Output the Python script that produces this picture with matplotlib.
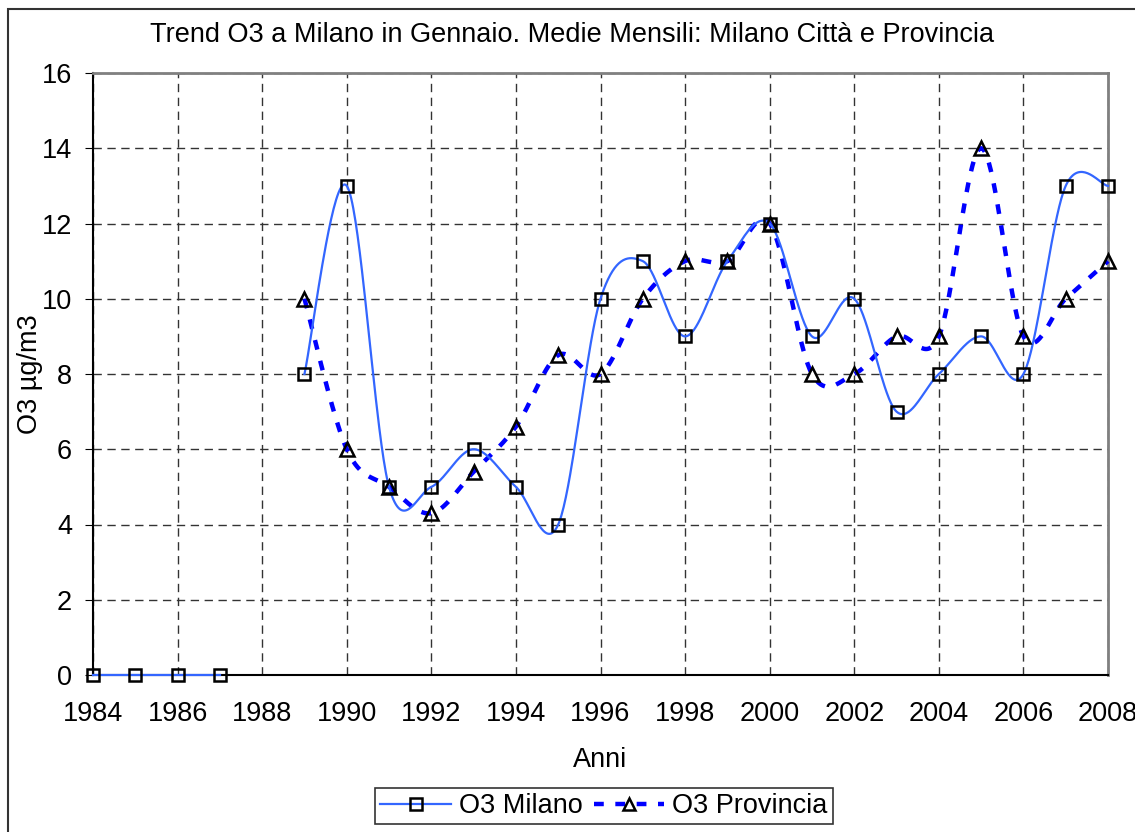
import numpy as np
import matplotlib
matplotlib.use('Agg')
import matplotlib.pyplot as plt
from matplotlib.patches import Rectangle
from matplotlib.lines import Line2D

plt.rcParams['font.family'] = ['Liberation Sans', 'DejaVu Sans']

# Data (None = missing year)
years = list(range(1984, 2009))
milano = [0, 0, 0, 0, None, 8, 13, 5, 5, 6, 5, 4, 10, 11, 9, 11, 12, 9, 10, 7, 8, 9, 8, 13, 13]
provincia = [None, None, None, None, None, 10, 6, 5, 4.3, 5.4, 6.6, 8.5, 8, 10, 11, 11, 12, 8, 8, 9, 9, 14, 9, 10, 11]

title = 'Trend O3 a Milano in Gennaio. Medie Mensili: Milano Città e Provincia'
xlabel = 'Anni'
ylabel = 'O3 µg/m3'
labels = ['O3 Milano', 'O3 Provincia']


def runs(x, y):
    # split a series into runs of consecutive known values
    out, cx, cy = [], [], []
    for a, b in zip(x, y):
        if b is None:
            if cx:
                out.append((cx, cy))
            cx, cy = [], []
        else:
            cx.append(a)
            cy.append(b)
    if cx:
        out.append((cx, cy))
    return out


def smooth(x, y, n=40):
    # Excel-like bezier smoothing between the points
    p = np.column_stack([x, y]).astype(float)
    if len(p) < 2:
        return p[:, 0], p[:, 1]
    ext = np.vstack([p[0], p, p[-1]])
    t = np.linspace(0, 1, n)[:, None]
    pts = []
    for i in range(len(p) - 1):
        p0, p1 = ext[i + 1], ext[i + 2]
        c1 = p0 + (ext[i + 2] - ext[i]) / 6
        c2 = p1 - (ext[i + 3] - ext[i + 1]) / 6
        seg = ((1 - t) ** 3) * p0 + 3 * ((1 - t) ** 2) * t * c1 + 3 * (1 - t) * t ** 2 * c2 + t ** 3 * p1
        pts.append(seg)
    pts = np.vstack(pts)
    return pts[:, 0], pts[:, 1]


W, H = 1135, 832
FS = 19.5
fig = plt.figure(figsize=(W / 100, H / 100), dpi=100)
ax = fig.add_axes([93 / W, 1 - 675 / H, (1108 - 93) / W, (675 - 73) / H])

mil_col = '#3366FF'
pro_col = '#0000FF'

for rx, ry in runs(years, provincia):
    sx, sy = smooth(rx, ry)
    ax.plot(sx, sy, color=pro_col, lw=3.2, ls=(0, (2.2, 2.6)), zorder=3, clip_on=False)
for rx, ry in runs(years, milano):
    sx, sy = smooth(rx, ry)
    ax.plot(sx, sy, color=mil_col, lw=1.6, zorder=4, clip_on=False)

px = [a for a, b in zip(years, provincia) if b is not None]
py = [b for b in provincia if b is not None]
mx = [a for a, b in zip(years, milano) if b is not None]
my = [b for b in milano if b is not None]
ax.plot(px, py, ls='none', marker='^', ms=10, mfc='none', mec='black', mew=1.8, zorder=5, clip_on=False)
ax.plot(mx, my, ls='none', marker='s', ms=9, mfc='none', mec='black', mew=1.8, zorder=6, clip_on=False)

ax.set_xlim(1984, 2008)
ax.set_ylim(0, 16)
ax.set_xticks(range(1984, 2009, 2))
ax.set_yticks(range(0, 17, 2))
ax.grid(True, color='#333333', lw=1, ls=(0, (6, 4)))
ax.set_axisbelow(True)
ax.tick_params(axis='both', labelsize=FS, colors='black')
ax.tick_params(axis='y', length=6, direction='out', pad=9)
ax.tick_params(axis='x', length=0, pad=19)
for s in ['top', 'right']:
    ax.spines[s].set_color('#808080')
    ax.spines[s].set_linewidth(2)
for s in ['left', 'bottom']:
    ax.spines[s].set_color('black')
    ax.spines[s].set_linewidth(1.5)

fig.text(0.504, 1 - 35 / H, title, ha='center', va='center', fontsize=FS)
fig.text(600 / W, 1 - 760 / H, xlabel, ha='center', va='center', fontsize=FS)
fig.text(30 / W, 1 - 374 / H, ylabel, ha='center', va='center', rotation=90, fontsize=FS)

handles = [
    Line2D([], [], color=mil_col, lw=1.6, marker='s', ms=8, mfc='none', mec='black', mew=1.8),
    Line2D([], [], color=pro_col, lw=3.2, ls=(0, (2.2, 2.6)), marker='^', ms=9, mfc='none', mec='black', mew=1.8),
]
leg = fig.legend(handles, labels, loc='center', bbox_to_anchor=(604 / W, 1 - 806 / H), ncol=2,
                 fontsize=FS, frameon=True, fancybox=False, handlelength=2.6, columnspacing=0.4,
                 handletextpad=0.3, borderpad=0.2, borderaxespad=0, edgecolor='black')
leg.get_frame().set_linewidth(1.2)

fig.patches.append(Rectangle((8 / W, -0.1), 1.2, 1 - 9 / H + 0.1, transform=fig.transFigure,
                             fill=False, edgecolor='#333333', lw=1.5))

fig.savefig('out.png', dpi=100)
